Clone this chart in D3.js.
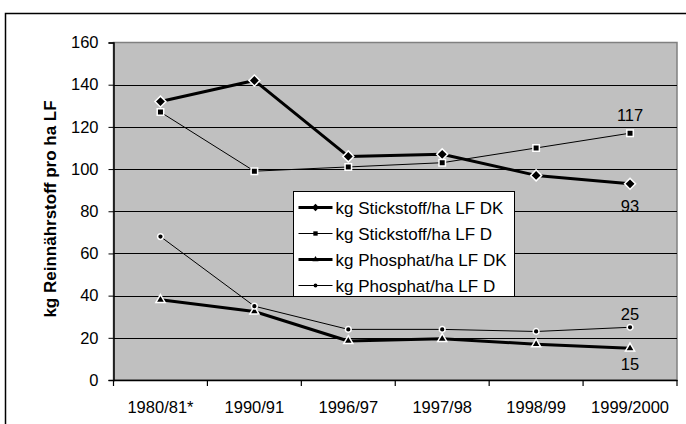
<!DOCTYPE html>
<html><head><meta charset="utf-8">
<script src="https://cdn.jsdelivr.net/npm/d3@7/dist/d3.min.js"></script>
<style>body{margin:0;background:#fff;}svg{display:block;font-family:"Liberation Sans",Arial,sans-serif;}</style>
</head><body><svg id="c" width="686" height="424"></svg>
<script>
const categories = ["1980/81*","1990/91","1996/97","1997/98","1998/99","1999/2000"];
const stickstoffDK = [132,142,106,107,97,93];
const stickstoffD  = [127,99,101,103,110,117];
const phosphatDK   = [38,32.5,18.5,19.5,17,15];
const phosphatD    = [68,35,24,24,23,25];
const yTicks = [0,20,40,60,80,100,120,140,160];
const seriesNames = ["kg Stickstoff/ha LF DK","kg Stickstoff/ha LF D","kg Phosphat/ha LF DK","kg Phosphat/ha LF D"];
const yTitle = "kg Reinnährstoff pro ha LF";

const FS = 16.5;
const svg = d3.select("#c");
const L=113.5, R=677, T=42.5, B=380;
// outer border
svg.append("rect").attr("x",5.5).attr("y",13.5).attr("width",700).attr("height",500)
  .attr("fill","none").attr("stroke","#000").attr("stroke-width",1.5);

const x = d3.scaleBand().domain(categories).range([L,R]);
const y = d3.scaleLinear().domain([0,160]).range([B,T]);

svg.append("rect").attr("x",L).attr("y",T).attr("width",R-L).attr("height",B-T)
  .attr("fill","#c0c0c0").attr("stroke","#808080").attr("stroke-width",1.5);

// gridlines
svg.append("g").selectAll("line").data(yTicks.filter(d=>d>0&&d<160)).join("line")
  .attr("x1",L).attr("x2",R).attr("y1",d=>Math.round(y(d))+0.5).attr("y2",d=>Math.round(y(d))+0.5)
  .attr("stroke","#000").attr("stroke-width",1);

// y axis
const ya = svg.append("g").attr("transform",`translate(${L},0)`)
  .call(d3.axisLeft(y).tickValues(yTicks).tickSize(5).tickPadding(10));
ya.select(".domain").attr("stroke","#000").attr("stroke-width",1.5);
ya.selectAll("line").attr("stroke","#000");
ya.selectAll("text").attr("font-size",FS).attr("fill","#000")
  .attr("font-family","Liberation Sans, Arial, sans-serif");

// x axis
const xa = svg.append("g").attr("transform",`translate(0,${B})`)
  .call(d3.axisBottom(x).tickSize(0).tickPadding(21));
xa.select(".domain").attr("stroke","#000").attr("stroke-width",1.5);
xa.selectAll("text").attr("font-size",FS).attr("fill","#000")
  .attr("font-family","Liberation Sans, Arial, sans-serif");
// category boundary ticks
svg.append("g").selectAll("line").data(categories.concat(["__end"])).join("line")
  .attr("x1",(d,i)=>L+i*x.bandwidth()).attr("x2",(d,i)=>L+i*x.bandwidth())
  .attr("y1",B).attr("y2",B+6).attr("stroke","#000").attr("stroke-width",1.2);

// y title
svg.append("text").attr("transform",`translate(56,209) rotate(-90)`)
  .attr("text-anchor","middle").attr("font-weight","bold").attr("font-size",17).text(yTitle);

const cx = (d,i)=>x(categories[i])+x.bandwidth()/2;
const line = d3.line().x((d,i)=>cx(d,i)).y(d=>y(d));

const series = [
  {v:stickstoffDK, w:3, m:"diamond"},
  {v:stickstoffD, w:1, m:"square"},
  {v:phosphatDK, w:3, m:"triangle"},
  {v:phosphatD, w:1, m:"circle"}
];
const sym = {diamond:[d3.symbolSquare,60,45], square:[d3.symbolSquare,42,0], triangle:[d3.symbolTriangle,36,0], circle:[d3.symbolCircle,26,0]};

series.forEach(s=>{
  svg.append("path").datum(s.v).attr("d",line).attr("fill","none")
    .attr("stroke","#000").attr("stroke-width",s.w).attr("stroke-linejoin","round");
});
series.forEach(s=>{
  svg.append("g").selectAll("path").data(s.v).join("path")
    .attr("transform",(d,i)=>`translate(${cx(d,i)},${y(d)}) rotate(${sym[s.m][2]})`)
    .attr("d",d3.symbol().type(sym[s.m][0]).size(sym[s.m][1]))
    .attr("fill","#000").attr("stroke","#fff").attr("stroke-width",1.5);
});

// data labels
const last = categories.length-1;
const lx = cx(null,last);
const labels = [
  {v:stickstoffD[last], dy:-12},
  {v:stickstoffDK[last], dy:28},
  {v:phosphatD[last], dy:-7},
  {v:phosphatDK[last], dy:22}
];
svg.append("g").selectAll("text").data(labels).join("text")
  .attr("x",lx).attr("y",d=>y(d.v)+d.dy).attr("text-anchor","middle")
  .attr("font-size",FS).text(d=>d.v);

// legend
const lg = svg.append("g").attr("transform","translate(293.5,191.5)");
lg.append("rect").attr("width",221).attr("height",105).attr("fill","#fff").attr("stroke","#000");
seriesNames.forEach((n,i)=>{
  const yy = 16 + i*26;
  lg.append("line").attr("x1",5).attr("x2",39).attr("y1",yy).attr("y2",yy)
    .attr("stroke","#000").attr("stroke-width",series[i].w);
  lg.append("path").attr("transform",`translate(22,${yy}) rotate(${sym[series[i].m][2]})`)
    .attr("d",d3.symbol().type(sym[series[i].m][0]).size(sym[series[i].m][1]*0.45)).attr("fill","#000");
  lg.append("text").attr("x",42).attr("y",yy+6).attr("font-size",17).text(n);
});
</script></body></html>
